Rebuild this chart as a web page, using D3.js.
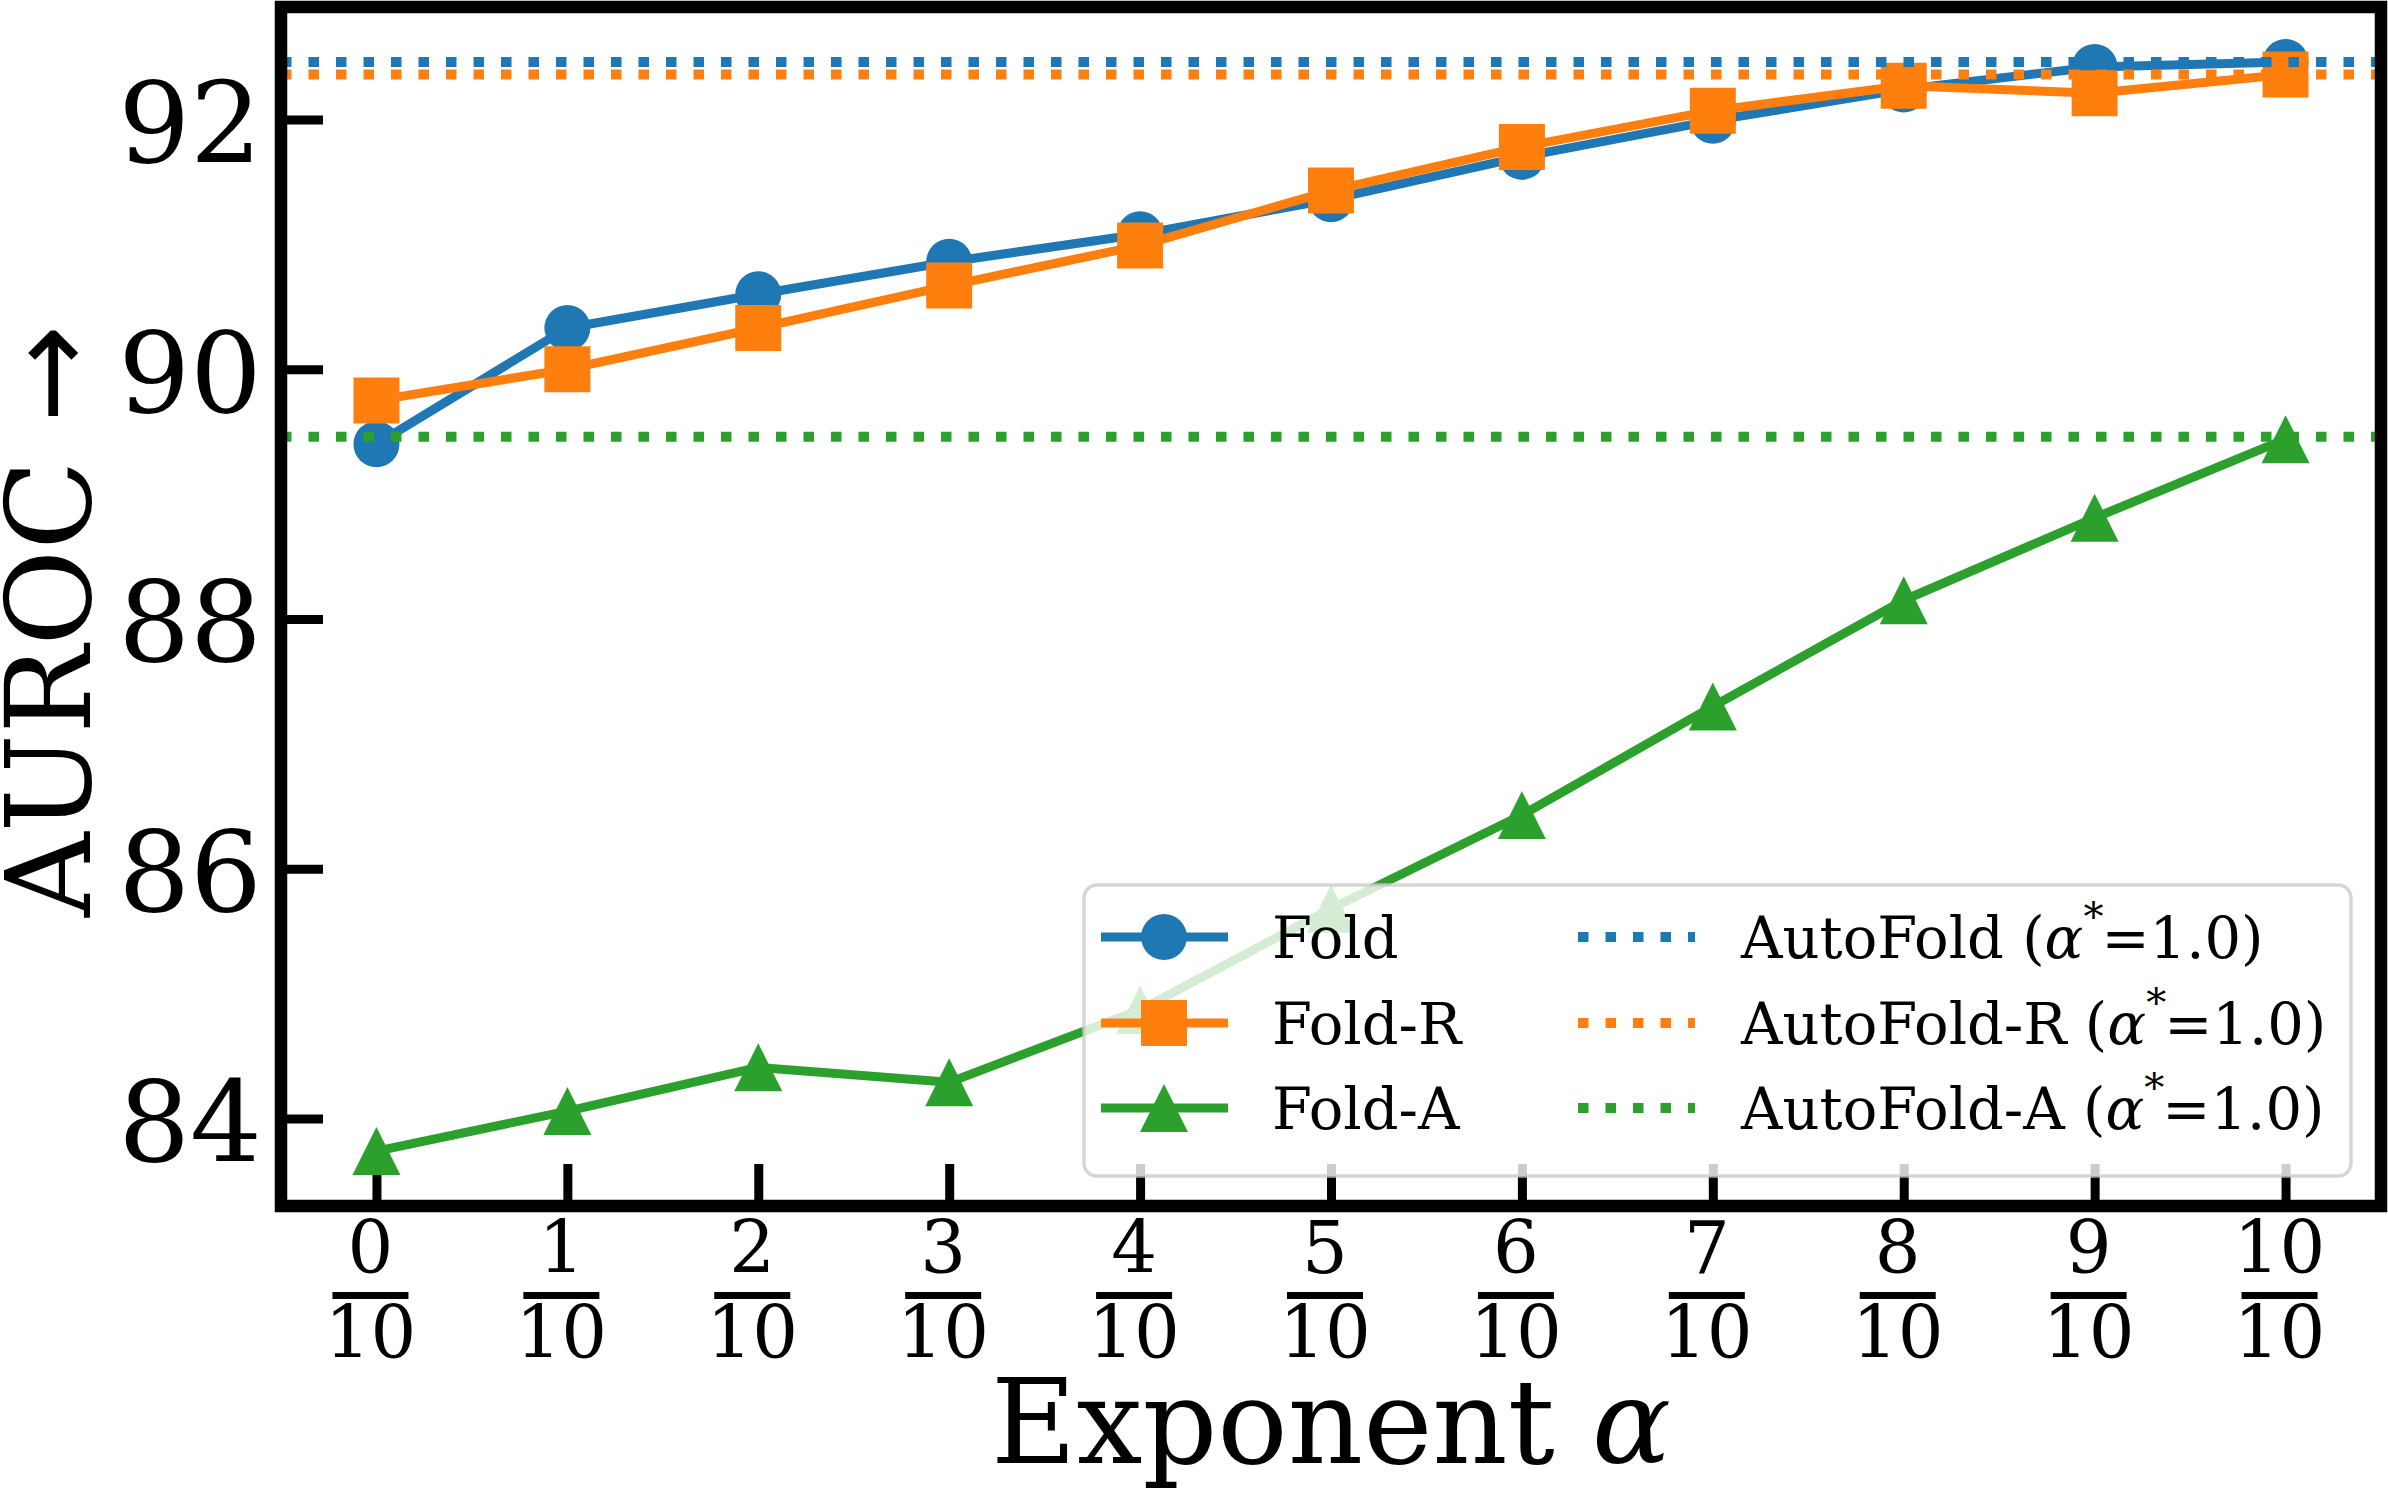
<!DOCTYPE html>
<html>
<head>
<meta charset="utf-8" />
<title>AUROC vs exponent</title>
<style>
body { margin: 0; background: #fff; }
text { font-family: "DejaVu Serif", serif; fill: #000; }
.tick line { stroke: #000; stroke-width: 9px; }
</style>
</head>
<body>
<div id="container"></div>
<script src="https://cdn.jsdelivr.net/npm/d3@7/dist/d3.min.js"></script>
<script>
// data
var alphas = [0, 1, 2, 3, 4, 5, 6, 7, 8, 9, 10];
var tickNumerators = ["0", "1", "2", "3", "4", "5", "6", "7", "8", "9", "10"];
var tickDenominator = "10";
var yTicks = [84, 86, 88, 90, 92];

var fold  = [89.40, 90.33, 90.60, 90.86, 91.08, 91.36, 91.70, 91.99, 92.24, 92.42, 92.46];
var foldR = [89.75, 90.00, 90.33, 90.67, 90.99, 91.43, 91.78, 92.07, 92.27, 92.21, 92.36];
var foldA = [83.74, 84.06, 84.41, 84.29, 84.87, 85.68, 86.43, 87.30, 88.15, 88.81, 89.44];

// AutoFold results (alpha* = 1.0), drawn as dotted horizontal lines
var autoNames = ["AutoFold", "AutoFold-R", "AutoFold-A"];
var autoValues = [92.46, 92.36, 89.46];
var seriesNames = ["Fold", "Fold-R", "Fold-A"];
var colors = ["#1f77b4", "#ff7f0e", "#2ca02c"];

var width = 2388,
    height = 1490,
    margin = { left: 281, top: 7, right: 7, bottom: 284 },
    g_width = width - margin.left - margin.right,
    g_height = height - margin.top - margin.bottom;

var svg = d3.select("#container")
    .append("svg")
    .attr("width", width)
    .attr("height", height);

var g = svg.append("g")
    .attr("transform", "translate(" + margin.left + "," + margin.top + ")");

var x = d3.scaleLinear().domain([-0.5, 10.5]).range([0, g_width]);
var y = d3.scaleLinear().domain([83.3, 92.9]).range([g_height, 0]);

// ticks point inwards
var xAxis = g.append("g")
    .attr("transform", "translate(0," + g_height + ")")
    .call(d3.axisBottom(x).tickValues(alphas).tickSize(-42).tickFormat(""));
xAxis.select(".domain").remove();

var yAxis = g.append("g")
    .call(d3.axisLeft(y).tickValues(yTicks).tickSize(-42).tickPadding(19).tickFormat(d3.format("d")));
yAxis.select(".domain").remove();
yAxis.selectAll("text")
    .attr("font-size", "113px")
    .attr("font-family", "DejaVu Serif")
    .attr("dy", "0.37em")
    .attr("fill", "#000");

// fraction tick labels  n/10
var frac = g.append("g").selectAll("g")
    .data(alphas)
    .enter()
    .append("g")
    .attr("transform", function(d) { return "translate(" + (x(d) - 6) + "," + g_height + ")"; });
frac.append("text")
    .attr("text-anchor", "middle")
    .attr("y", 67)
    .attr("font-size", "72px")
    .text(function(d, i) { return tickNumerators[i]; });
frac.append("rect")
    .attr("x", -38)
    .attr("y", 86)
    .attr("width", 76)
    .attr("height", 7)
    .attr("fill", "#000");
frac.append("text")
    .attr("text-anchor", "middle")
    .attr("y", 152)
    .attr("font-size", "72px")
    .text(tickDenominator);

// lines + markers
var line = d3.line()
    .x(function(d, i) { return x(alphas[i]); })
    .y(function(d) { return y(d); });

var allSeries = [fold, foldR, foldA];
allSeries.forEach(function(vals, k) {
    g.append("path")
        .attr("d", line(vals))
        .attr("fill", "none")
        .attr("stroke", colors[k])
        .attr("stroke-width", 9)
        .attr("stroke-linejoin", "round");
    g.append("g").selectAll("path")
        .data(vals)
        .enter()
        .append("path")
        .attr("transform", function(d, i) { return "translate(" + x(alphas[i]) + "," + y(d) + ")"; })
        .attr("d", markerPath(k))
        .attr("fill", colors[k]);
});

function markerPath(k) {
    if (k == 0) return "M23,0A23,23 0 1,1 -23,0A23,23 0 1,1 23,0Z";
    if (k == 1) return "M-23,-23H23V23H-23Z";
    return "M0,-24L24,24L-24,24Z";
}

// dotted reference lines
g.append("g").selectAll("line")
    .data(autoValues)
    .enter()
    .append("line")
    .attr("x1", 0)
    .attr("x2", g_width)
    .attr("y1", function(d) { return y(d); })
    .attr("y2", function(d) { return y(d); })
    .attr("stroke", function(d, i) { return colors[i]; })
    .attr("stroke-width", 10)
    .attr("stroke-dasharray", "10.5,17");

// frame
g.append("rect")
    .attr("width", g_width)
    .attr("height", g_height)
    .attr("fill", "none")
    .attr("stroke", "#000")
    .attr("stroke-width", 12.5);

// axis labels
svg.append("text")
    .attr("x", margin.left + g_width / 2)
    .attr("y", 1463)
    .attr("text-anchor", "middle")
    .attr("font-size", "117px")
    .text("Exponent ")
    .append("tspan")
    .attr("font-style", "italic")
    .text("α");

var ylab = svg.append("text")
    .attr("transform", "translate(90,621) rotate(-90)")
    .attr("text-anchor", "middle")
    .attr("font-size", "117px")
    .text("AUROC ");
ylab.append("tspan")
    .attr("font-family", "DejaVu Sans")
    .text("→");

// legend
var legend = svg.append("g");
legend.append("rect")
    .attr("x", 1084)
    .attr("y", 885)
    .attr("width", 1267)
    .attr("height", 291)
    .attr("rx", 13)
    .attr("fill", "#fff")
    .attr("fill-opacity", 0.8)
    .attr("stroke", "#ccc")
    .attr("stroke-opacity", 0.8)
    .attr("stroke-width", 3.5);

var rowY = [937, 1023, 1108];
seriesNames.forEach(function(name, k) {
    legend.append("line")
        .attr("x1", 1101).attr("x2", 1228)
        .attr("y1", rowY[k]).attr("y2", rowY[k])
        .attr("stroke", colors[k])
        .attr("stroke-width", 9);
    legend.append("path")
        .attr("transform", "translate(1164," + rowY[k] + ")")
        .attr("d", markerPath(k))
        .attr("fill", colors[k]);
    legend.append("text")
        .attr("x", 1272)
        .attr("y", rowY[k] + 21)
        .attr("font-size", "57.5px")
        .text(name);
});
autoNames.forEach(function(name, k) {
    legend.append("line")
        .attr("x1", 1578).attr("x2", 1695)
        .attr("y1", rowY[k]).attr("y2", rowY[k])
        .attr("stroke", colors[k])
        .attr("stroke-width", 10)
        .attr("stroke-dasharray", "10.5,17");
    var t = legend.append("text")
        .attr("x", 1741)
        .attr("y", rowY[k] + 21)
        .attr("font-size", "57.5px")
        .text(name + " (");
    t.append("tspan").attr("font-style", "italic").text("α");
    t.append("tspan").attr("font-size", "40px").attr("dy", -28).text("*");
    t.append("tspan").attr("dy", 28).attr("dx", -2).text("=1.0)");
});
</script>
</body>
</html>
